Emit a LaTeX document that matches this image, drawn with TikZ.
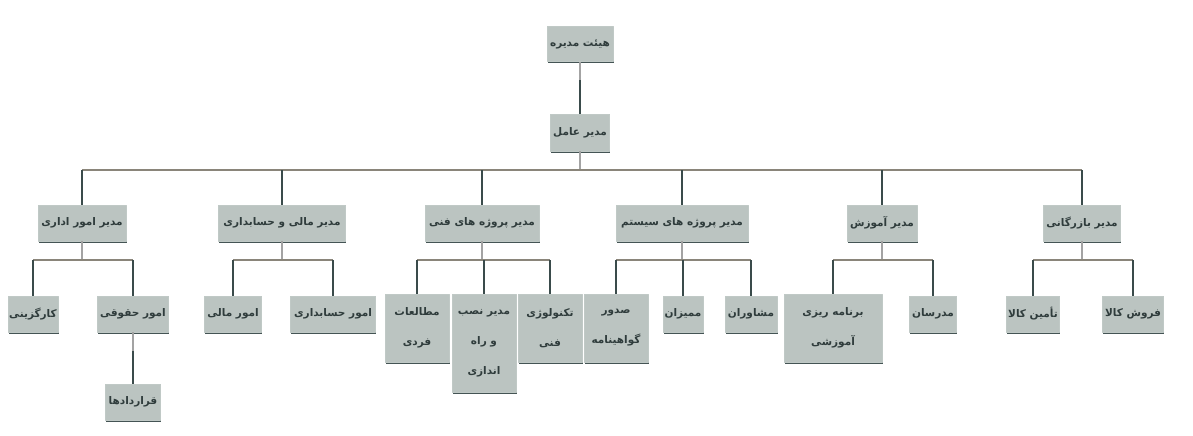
\documentclass[tikz,border=0pt]{standalone}
\usepackage{fontspec}
\newfontfamily\farsifont[Script=Arabic]{DejaVu Sans}
\TeXXeTstate=1
\usetikzlibrary{shadows}
\definecolor{boxfill}{HTML}{BBC4C1}
\definecolor{boxtext}{HTML}{2F3C3C}
\definecolor{linedark}{HTML}{3A4B4B}
\definecolor{linelight}{HTML}{A3A3A3}
\definecolor{linebar}{HTML}{8A857A}
\begin{document}
\begin{tikzpicture}[x=1pt,y=-1pt,line join=round,
  font=\farsifont\bfseries\fontsize{10.5}{30}\selectfont,
  unit/.style={fill=boxfill,draw=boxfill!92!white,line width=0.5pt,text=boxtext,
    inner sep=0pt,align=center,minimum height=36pt,
    drop shadow={shadow xshift=0.6pt,shadow yshift=-1.8pt,fill=linedark,opacity=0.95}},
  up/.style={draw=linelight,line width=2pt},
  bar/.style={draw=linebar,line width=2pt},
  down/.style={draw=linedark,line width=2pt}]
\useasboundingbox (0,0) rectangle (1193,436);
% top
\node[unit,minimum width=66pt,minimum height=35pt] (board) at (580,44) {\beginR هیئت مدیره\endR};
\node[unit,minimum width=59pt,minimum height=37pt] (ceo) at (580,132.5) {\beginR مدیر عامل\endR};
% managers
\node[unit,minimum width=88pt] (admin) at (82,223) {\beginR مدیر امور اداری\endR};
\node[unit,minimum width=127pt] (fin) at (282,223) {\beginR مدیر مالی و حسابداری\endR};
\node[unit,minimum width=114pt] (tech) at (482,223) {\beginR مدیر پروژه های فنی\endR};
\node[unit,minimum width=132pt] (sys) at (682,223) {\beginR مدیر پروژه های سیستم\endR};
\node[unit,minimum width=70pt] (edu) at (882,223) {\beginR مدیر آموزش\endR};
\node[unit,minimum width=77pt] (com) at (1082,223) {\beginR مدیر بازرگانی\endR};
% units
\node[unit,minimum width=50pt] (staff) at (33,314) {\beginR کارگزینی\endR};
\node[unit,minimum width=71pt] (legal) at (133,314) {\beginR امور حقوقی\endR};
\node[unit,minimum width=55pt] (contract) at (133,402) {\beginR قراردادها\endR};
\node[unit,minimum width=57pt] (money) at (233,314) {\beginR امور مالی\endR};
\node[unit,minimum width=85pt] (account) at (333,314) {\beginR امور حسابداری\endR};
\node[unit,minimum width=64pt,minimum height=68pt] (study) at (417,328) {\beginR مطالعات\endR\\\beginR فردی\endR};
\node[unit,minimum width=64pt,minimum height=98pt] (setup) at (484,343) {\beginR مدیر نصب\endR\\\beginR و راه\endR\\\beginR اندازی\endR};
\node[unit,minimum width=64pt,minimum height=68pt] (techno) at (550,328) {\beginR تکنولوژی\endR\\\beginR فنی\endR};
\node[unit,minimum width=64pt,minimum height=68pt] (cert) at (616,328) {\beginR صدور\endR\\\beginR گواهینامه\endR};
\node[unit,minimum width=40pt] (audit) at (683,314) {\beginR ممیزان\endR};
\node[unit,minimum width=52pt] (advice) at (751,314) {\beginR مشاوران\endR};
\node[unit,minimum width=98pt,minimum height=68pt] (plan) at (833,328) {\beginR برنامه ریزی\endR\\\beginR آموزشی\endR};
\node[unit,minimum width=47pt] (teach) at (933,314) {\beginR مدرسان\endR};
\node[unit,minimum width=53pt] (supply) at (1033,314) {\beginR تأمین کالا\endR};
\node[unit,minimum width=61pt] (sale) at (1133,314) {\beginR فروش کالا\endR};
% joints
\coordinate (board-j) at (580,80);
\coordinate (ceo-j) at (580,170);
\coordinate (admin-j) at (82,260);
\coordinate (fin-j) at (282,260);
\coordinate (tech-j) at (482,260);
\coordinate (sys-j) at (682,260);
\coordinate (edu-j) at (882,260);
\coordinate (com-j) at (1082,260);
\coordinate (legal-j) at (133,351);
% links
\draw[up] (board.south) -- (board-j);
\draw[down] (board-j) -- (ceo.north);
\draw[up] (ceo.south) -- (ceo-j);
\draw[bar] (admin |- ceo-j) -- (com |- ceo-j);
\foreach \n in {admin,fin,tech,sys,edu,com}
  \draw[down] (\n |- ceo-j) -- (\n.north);
\foreach \p/\a/\b in {admin/staff/legal,fin/money/account,tech/study/techno,
    sys/cert/advice,edu/plan/teach,com/supply/sale}{
  \draw[up] (\p.south) -- (\p-j);
  \draw[bar] (\a |- \p-j) -- (\b |- \p-j);
  \draw[down] (\a |- \p-j) -- (\a.north);
  \draw[down] (\b |- \p-j) -- (\b.north);
}
\draw[down] (setup |- tech-j) -- (setup.north);
\draw[down] (audit |- sys-j) -- (audit.north);
\draw[up] (legal.south) -- (legal-j);
\draw[down] (legal-j) -- (contract.north);
\end{tikzpicture}
\end{document}
